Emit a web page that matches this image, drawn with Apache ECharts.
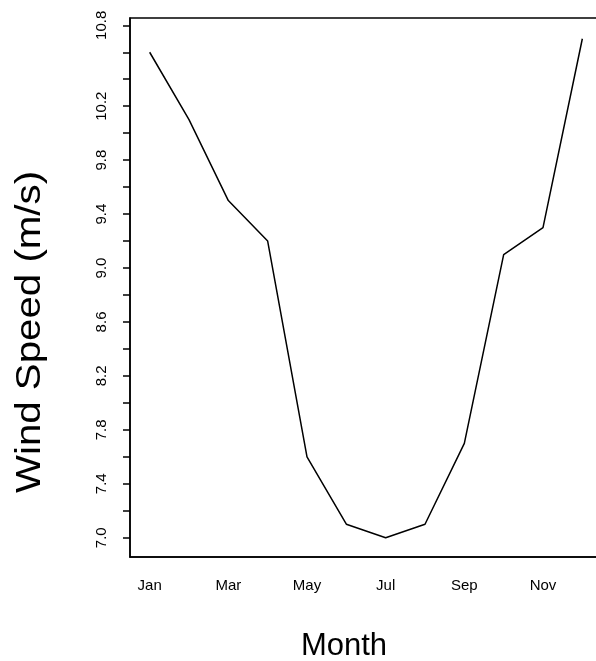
<!DOCTYPE html>
<html>
<head>
<meta charset="utf-8">
<script src="https://cdn.jsdelivr.net/npm/echarts@6/dist/echarts.min.js"></script>
<style>
html,body{margin:0;padding:0;background:#fff;}
#chart{width:596px;height:661px;}
</style>
</head>
<body>
<div id="chart"></div>
<script>
var months = ['Jan','Feb','Mar','Apr','May','Jun','Jul','Aug','Sep','Oct','Nov','Dec'];
var windSpeed = [10.6, 10.1, 9.5, 9.2, 7.6, 7.1, 7.0, 7.1, 7.7, 9.1, 9.3, 10.7];
var yTickValues = [7.0,7.2,7.4,7.6,7.8,8.0,8.2,8.4,8.6,8.8,9.0,9.2,9.4,9.6,9.8,10.0,10.2,10.4,10.6,10.8];
var yLabelValues = [7.0,7.4,7.8,8.2,8.6,9.0,9.4,9.8,10.2,10.8];
var yTitle = 'Wind Speed (m/s)';
var xTitle = 'Month';

var FONT = '"Liberation Sans", Arial, Helvetica, sans-serif';
var chart = echarts.init(document.getElementById('chart'));
chart.setOption({
  backgroundColor: '#fff',
  animation: false,
  grid: {
    left: 130, top: 18, width: 472, bottom: 104,
    outerBoundsMode: 'none', containLabel: false,
    show: true, borderColor: '#000', borderWidth: 1.5, backgroundColor: 'transparent'
  },
  xAxis: {
    type: 'category',
    data: months,
    boundaryGap: true,
    axisLine: { lineStyle: { color: '#000', width: 1.5 } },
    axisTick: { alignWithLabel: true, interval: 0, length: 8, lineStyle: { color: '#000', width: 1.5 } },
    axisLabel: { interval: 1, color: '#000', fontSize: 15, fontFamily: FONT, margin: 21 },
    splitLine: { show: false }
  },
  yAxis: {
    type: 'value',
    min: 6.857,
    max: 10.854,
    axisLine: { show: true, lineStyle: { color: '#000', width: 1.5 } },
    axisTick: { show: true, length: 7, customValues: yTickValues, lineStyle: { color: '#000', width: 1.5 } },
    axisLabel: {
      customValues: yLabelValues,
      rotate: 90,
      color: '#000', fontSize: 15, fontFamily: FONT, margin: 21,
      formatter: function (v) { return v.toFixed(1); }
    },
    splitLine: { show: false }
  },
  graphic: [
    {
      type: 'text', x: 30, y: 332, rotation: Math.PI / 2, scaleX: 1.15,
      style: { text: yTitle, font: '35px ' + FONT, fill: '#000', textAlign: 'center', textVerticalAlign: 'middle' }
    },
    {
      type: 'text', x: 344, y: 646,
      style: { text: xTitle, font: '31px ' + FONT, fill: '#000', textAlign: 'center', textVerticalAlign: 'middle' }
    }
  ],
  series: [{
    type: 'line',
    data: windSpeed,
    symbol: 'none',
    lineStyle: { color: '#000', width: 1.5 }
  }]
});
</script>
</body>
</html>
